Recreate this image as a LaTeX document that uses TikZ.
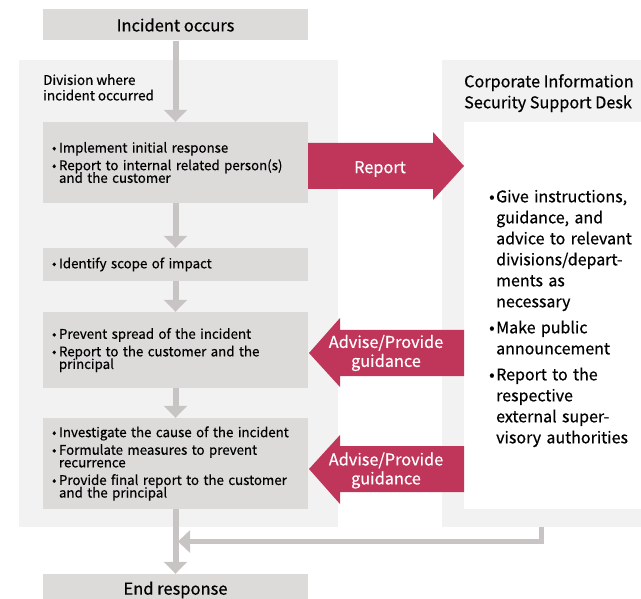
\documentclass[tikz,border=0pt]{standalone}
\usepackage{fontspec}
\setmainfont{Noto Sans CJK JP}[FakeBold=0.5]
\usetikzlibrary{arrows.meta,positioning,calc}

\definecolor{panelgray}{RGB}{242,242,242}
\definecolor{boxgray}{RGB}{220,219,218}
\definecolor{linegray}{RGB}{200,196,196}
\definecolor{alertred}{RGB}{192,54,90}

% bullet item with hanging indent
\newcommand{\bitem}[1]{\leftskip=7pt\noindent\llap{\makebox[7pt][l]{\textbullet}}#1\par}

\begin{document}
\begin{tikzpicture}[x=1pt, y=-1pt,
    panel/.style={fill=panelgray, inner sep=0pt},
    stepbox/.style={fill=boxgray, inner xsep=9pt, inner ysep=0pt, text width=247pt, align=left,
        font=\fontsize{13.3}{12.6}\selectfont,
        execute at begin node={\setlength{\parskip}{5pt}\lineskiplimit=-6pt}},
    endbox/.style={fill=boxgray, minimum width=265pt, minimum height=31pt, inner sep=0pt,
        font=\fontsize{16.5}{18}\selectfont},
    flow/.style={draw=linegray, line width=6pt, -{Triangle[length=12pt,width=23pt]}},
    alert/.style={fill=alertred},
    alertlbl/.style={text=white, align=center, inner sep=0pt, font=\fontsize{16.3}{19}\selectfont}]
    \useasboundingbox (0,0) rectangle (641,599);
    \clip (0,0) rectangle (641,599);

    % Background panels
    \node[panel, minimum width=319pt, minimum height=467pt] (division) at (178.5,293.5) {};
    \node[panel, minimum width=199pt, minimum height=467pt] (desk) at (541.5,293.5) {};
    \node[fill=white, inner sep=0pt, minimum width=177pt, minimum height=387pt] (deskbody) at (552.5,315.5) {};

    \node[anchor=north west, align=left, inner sep=0pt, font=\fontsize{13.5}{15.5}\selectfont]
        (divtitle) at (43,74) {Division where\\incident occurred};
    \node[anchor=north west, align=left, inner sep=0pt, font=\fontsize{16.2}{21}\selectfont]
        (desktitle) at (464,74) {Corporate Information\\Security Support Desk};

    % Steps
    \node[endbox] (occur) at (175.5,25) {Incident occurs};
    \node[stepbox, minimum height=81pt] (b1) at (175.5,162.5)
        {\bitem{Implement initial response}\bitem{Report to internal related person(s)\newline and the customer}};
    \node[stepbox, minimum height=33pt] (b2) at (175.5,264.5)
        {\bitem{Identify scope of impact}};
    \node[stepbox, minimum height=76pt] (b3) at (175.5,350)
        {\bitem{Prevent spread of the incident}\bitem{Report to the customer and the\newline principal}};
    \node[stepbox, minimum height=91pt] (b4) at (175.5,463.5)
        {\bitem{Investigate the cause of the incident}\bitem{Formulate measures to prevent\newline recurrence}\bitem{Provide final report to the customer\newline and the principal}};
    \node[endbox, minimum height=32pt] (done) at (175.5,590) {End response};

    % Support desk tasks
    \node[anchor=west, text width=160pt, align=left, inner sep=0pt,
        font=\fontsize{16}{21}\selectfont, execute at begin node={\setlength{\parskip}{5pt}}]
        (tasks) at (489,318.5)
        {\bitem{Give instructions,\newline guidance, and\newline advice to relevant\newline divisions/depart-\newline ments as\newline necessary}\bitem{Make public\newline announcement}\bitem{Report to the\newline respective\newline external super-\newline visory authorities}};

    % Main flow
    \foreach \a/\b in {occur/b1, b1/b2, b2/b3, b3/b4, b4/done} {
        \draw[flow] (\a) -- (\b);
    }

    % Return from the desk
    \coordinate (merge) at (178,541.5);
    \draw[flow, line width=5pt, -{Triangle[length=12pt,width=22pt]}] (desk.south) |- (merge);

    % Report and advice arrows
    \fill[alert] (308,143) -- (433,143) -- (433,132) -- (464,166) -- (433,200) -- (433,189) -- (308,189) -- cycle;
    \fill[alert] (464,330) -- (340,330) -- (340,318) -- (309,353) -- (340,387) -- (340,376) -- (464,376) -- cycle;
    \fill[alert] (464,446) -- (340,446) -- (340,435) -- (309,469) -- (340,504) -- (340,492) -- (464,492) -- cycle;

    \node[alertlbl] (reportlbl) at (380,169) {Report};
    \node[alertlbl] (advise1) at (386,353) {Advise/Provide\\guidance};
    \node[alertlbl] (advise2) at (386,470.5) {Advise/Provide\\guidance};
\end{tikzpicture}
\end{document}
